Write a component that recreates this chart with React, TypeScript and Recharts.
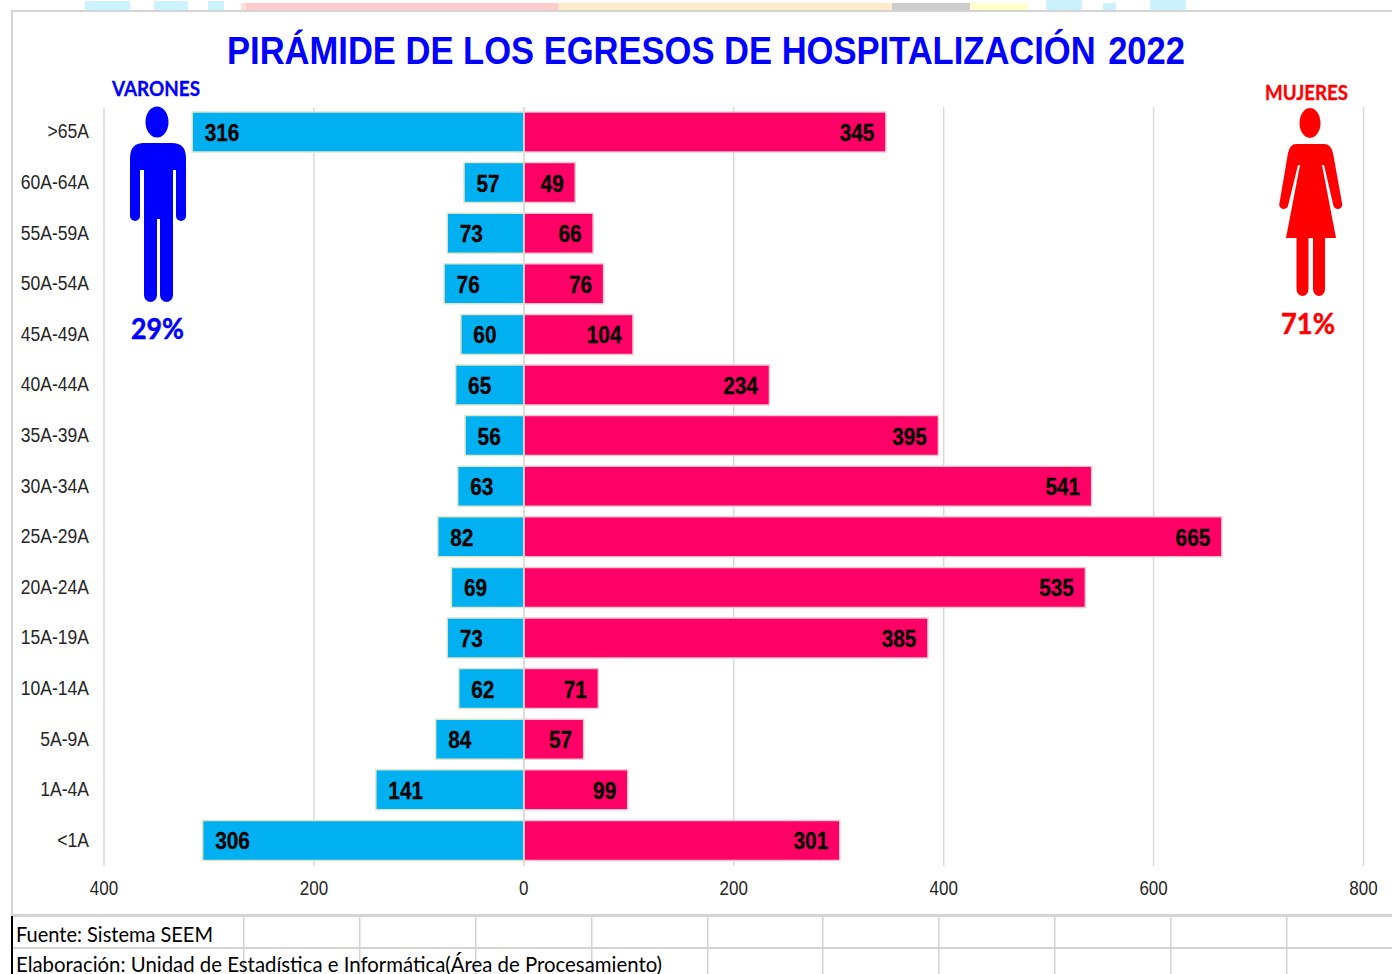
import { BarChart, Bar, XAxis, YAxis, CartesianGrid, LabelList, ReferenceLine } from "recharts";

const ageGroups = [">65A", "60A-64A", "55A-59A", "50A-54A", "45A-49A", "40A-44A", "35A-39A", "30A-34A", "25A-29A", "20A-24A", "15A-19A", "10A-14A", "5A-9A", "1A-4A", "<1A"];
const varones = [316, 57, 73, 76, 60, 65, 56, 63, 82, 69, 73, 62, 84, 141, 306];
const mujeres = [345, 49, 66, 76, 104, 234, 395, 541, 665, 535, 385, 71, 57, 99, 301];
const xTicks = [-400, -200, 0, 200, 400, 600, 800];
const footerColumns = [243, 359, 475, 591, 707, 822, 938, 1054, 1170, 1286];

// faded remains of the banner cut off above the chart
const topStrip = [
  { x: 85, w: 45, y: 1, fill: "#ccf2ff" },
  { x: 154, w: 34, y: 1, fill: "#ccf2ff" },
  { x: 208, w: 16, y: 1, fill: "#ccf2ff" },
  { x: 241, w: 5, y: 3, fill: "#ffdede" },
  { x: 246, w: 312, y: 3, fill: "#ffcccc" },
  { x: 558, w: 334, y: 3, fill: "#ffeacc" },
  { x: 892, w: 78, y: 3, fill: "#cccccc" },
  { x: 970, w: 58, y: 3, fill: "#ffffcc" },
  { x: 1046, w: 36, y: 0, fill: "#ccf2ff" },
  { x: 1103, w: 13, y: 3, fill: "#ccf2ff" },
  { x: 1150, w: 36, y: 0, fill: "#ccf2ff" },
];

const rows = ageGroups.map((name, i) => ({ name, varones: -varones[i], mujeres: mujeres[i] }));

function AgeTick({ x, y, payload }: any) {
  return (
    <text transform={`translate(${x - 7},${y + 6}) scale(0.9,1)`} textAnchor="end" fontFamily="Liberation Sans" fontSize={19.5} fill="#262626">
      {payload.value}
    </text>
  );
}

function ValueTick({ x, y, payload }: any) {
  return (
    <text transform={`translate(${x},${y + 21}) scale(0.87,1)`} textAnchor="middle" fontFamily="Liberation Sans" fontSize={19.5} fill="#262626">
      {Math.abs(payload.value)}
    </text>
  );
}

function BarValue({ x, y, width, height, value, side }: any) {
  const left = Math.min(x, x + width);
  const right = Math.max(x, x + width);
  const tx = side === "left" ? left + 12.5 : right - 11.5;
  return (
    <text
      transform={`translate(${tx},${y + height / 2 + 9}) scale(0.85,1)`}
      textAnchor={side === "left" ? "start" : "end"}
      fontFamily="Liberation Sans"
      fontWeight="bold"
      fontSize={24.5}
      fill="#000"
      stroke="#000"
      strokeWidth={0.3}
    >
      {Math.abs(value)}
    </text>
  );
}

function Backdrop() {
  return (
    <svg width={1392} height={974} style={{ position: "absolute", left: 0, top: 0 }}>
      {topStrip.map((s) => (
        <rect key={s.x} x={s.x} y={s.y} width={s.w} height={10 - s.y} fill={s.fill} />
      ))}
      <rect x={11} y={10} width={1381} height={2} fill="#d4d4d4" />
      <rect x={11} y={10} width={2} height={905} fill="#d4d4d4" />
      <rect x={11} y={914} width={1381} height={3} fill="#d4d4d4" />
      <rect x={13} y={947} width={1379} height={2} fill="#d4d4d4" />
      <rect x={11} y={916} width={2} height={58} fill="#000" />
      {footerColumns.map((x) => (
        <rect key={x} x={x} y={917} width={1.5} height={57} fill="#d4d4d4" />
      ))}
      <text x={227} y={64} textLength={958} lengthAdjust="spacingAndGlyphs" fontFamily="Liberation Sans" fontWeight="bold" fontSize={38} fill="#0000ff">
        {"PIRÁMIDE DE LOS EGRESOS DE HOSPITALIZACIÓN\u200A 2022"}
      </text>
      <text x={112} y={96} textLength={88} lengthAdjust="spacingAndGlyphs" fontFamily="Lato" fontWeight="bold" fontSize={21} fill="#0000ff" stroke="#0000ff" strokeWidth={0.3}>VARONES</text>
      <text x={1265} y={100} textLength={83} lengthAdjust="spacingAndGlyphs" fontFamily="Lato" fontWeight="bold" fontSize={21} fill="#ff0000" stroke="#ff0000" strokeWidth={0.3}>MUJERES</text>
      <text x={131} y={339} textLength={53} lengthAdjust="spacingAndGlyphs" fontFamily="Lato" fontWeight="bold" fontSize={29} fill="#0000ff" stroke="#0000ff" strokeWidth={0.5}>29%</text>
      <text x={1281} y={334} textLength={54} lengthAdjust="spacingAndGlyphs" fontFamily="Lato" fontWeight="bold" fontSize={29} fill="#ff0000" stroke="#ff0000" strokeWidth={0.5}>71%</text>
      <ellipse cx={157} cy={122} rx={11.5} ry={15.5} fill="#0000ff" />
      <path
        d="M144,143 H172 Q186,143 186,158 V216 A5,5 0 0 1 176,216 V170 H173 V295 A6.5,7 0 0 1 160,295 V219 H157 V295 A6.5,7 0 0 1 144,295 V170 H140 V216 A5,5 0 0 1 130,216 V158 Q130,143 144,143 Z"
        fill="#0000ff"
      />
      <ellipse cx={1310} cy={123} rx={10.5} ry={15} fill="#ff0000" />
      <path
        d="M1296,144 H1324 Q1331,144 1333,153 L1342,203 A4.5,4.5 0 0 1 1333.5,206 L1324,165 H1322 L1336,238 H1325 V289 A6,7 0 0 1 1313,289 V238 H1308.5 V289 A6,7 0 0 1 1296.5,289 V238 H1286 L1300,165 H1298 L1288,206 A4.5,4.5 0 0 1 1279.5,203 L1288,153 Q1290,144 1296,144 Z"
        fill="#ff0000"
      />
      <text x={16} y={942} textLength={197} lengthAdjust="spacingAndGlyphs" fontFamily="Lato" fontSize={22} fill="#000">Fuente: Sistema SEEM</text>
      <text x={16} y={972} textLength={646} lengthAdjust="spacingAndGlyphs" fontFamily="Lato" fontSize={22} fill="#000">Elaboración: Unidad de Estadística e Informática(Área de Procesamiento)</text>
    </svg>
  );
}

export default function App() {
  return (
    <div style={{ position: "absolute", left: 0, top: 0, width: 1392, height: 974, background: "#fff", overflow: "hidden" }}>
      <Backdrop />
      <div style={{ position: "absolute", left: 0, top: 0 }}>
        <BarChart
          width={1392}
          height={974}
          data={rows}
          layout="vertical"
          stackOffset="sign"
          barSize={40}
          margin={{ top: 107, right: 28.5, bottom: 68, left: 14 }}
        >
          <CartesianGrid horizontal={false} stroke="#d9d9d9" strokeWidth={1.5} />
          <XAxis
            type="number"
            domain={[-400, 800]}
            ticks={xTicks}
            height={40}
            interval={0}
            axisLine={false}
            tickLine={false}
            tick={<ValueTick />}
          />
          <YAxis
            type="category"
            dataKey="name"
            width={90}
            interval={0}
            axisLine={false}
            tickLine={false}
            tick={<AgeTick />}
          />
          <Bar dataKey="varones" stackId="pop" fill="#00b0f0" stroke="#dfe5c8" strokeWidth={1.5} isAnimationActive={false}>
            <LabelList dataKey="varones" content={<BarValue side="left" />} />
          </Bar>
          <Bar dataKey="mujeres" stackId="pop" fill="#ff0066" stroke="#f0c8d0" strokeWidth={1.5} isAnimationActive={false}>
            <LabelList dataKey="mujeres" content={<BarValue side="right" />} />
          </Bar>
          <ReferenceLine x={0} stroke="#d9d9d9" strokeWidth={1.5} />
        </BarChart>
      </div>
    </div>
  );
}
